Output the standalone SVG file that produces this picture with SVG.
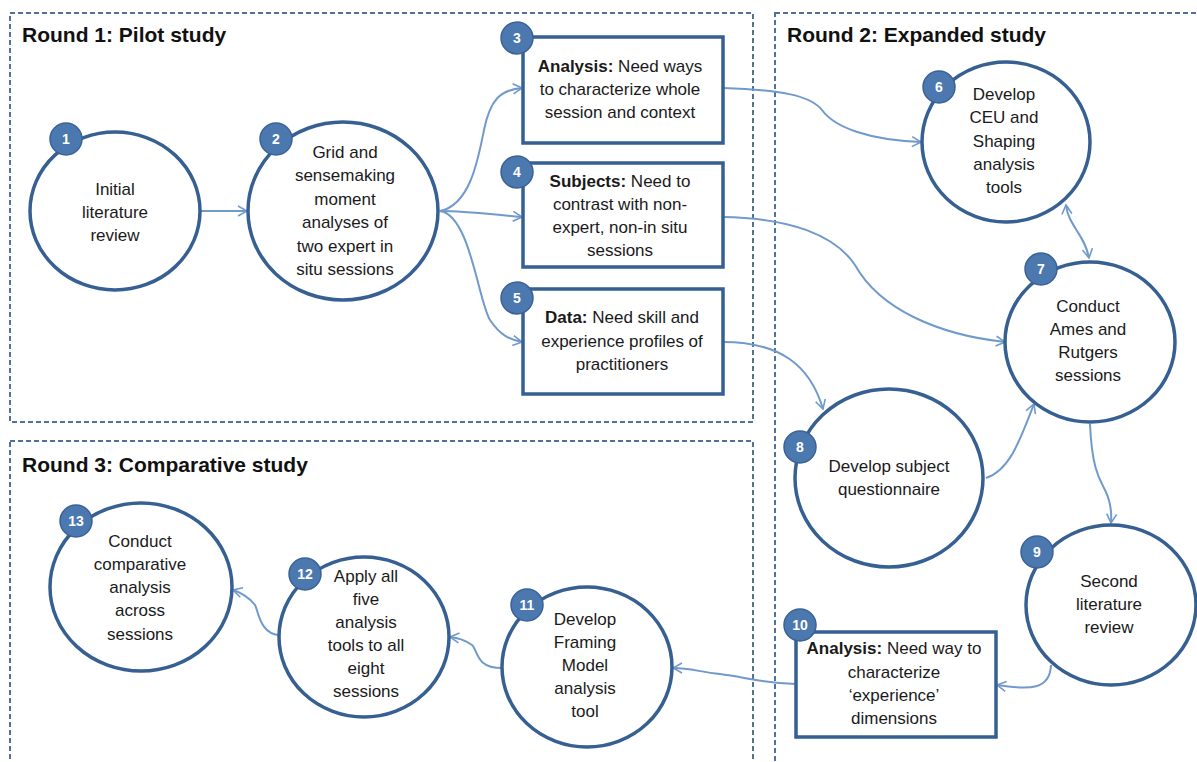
<svg xmlns="http://www.w3.org/2000/svg" width="1197" height="762" viewBox="0 0 1197 762">
<defs>
<style>
.frame{fill:none;stroke:#4f719c;stroke-width:2;stroke-dasharray:5,3}
.title{font-family:"Liberation Sans",Arial,sans-serif;font-weight:bold;font-size:21px;fill:#111}
.node{fill:#fff;stroke:#365f92;stroke-width:3.5}
.badge{fill:#4c78b0;stroke:#3a6296;stroke-width:1.5}
.bt{font-family:"Liberation Sans",Arial,sans-serif;font-weight:bold;font-size:14px;fill:#fff;text-anchor:middle}
.t{font-family:"Liberation Sans",Arial,sans-serif;font-size:17px;fill:#1a1a1a;text-anchor:middle}
.b{font-weight:bold}
.conn{fill:none;stroke:#7099cc;stroke-width:2}
</style>
<marker id="arr" viewBox="0 0 12 12" refX="11" refY="6" markerWidth="12" markerHeight="12" markerUnits="userSpaceOnUse" orient="auto-start-reverse">
<path d="M2,1 L11,6 L2,11" fill="none" stroke="#7099cc" stroke-width="1.6"/>
</marker>
</defs>
<rect width="1197" height="762" fill="#fff"/>
<g id="frames">
<rect class="frame" x="10" y="13" width="743" height="409"/>
<rect class="frame" x="775" y="13" width="440" height="770"/>
<rect class="frame" x="10" y="441" width="743" height="340"/>
<text class="title" x="22" y="42">Round 1: Pilot study</text>
<text class="title" x="787" y="42">Round 2: Expanded study</text>
<text class="title" x="22" y="472">Round 3: Comparative study</text>
</g>
<g id="connectors">
<path class="conn" marker-end="url(#arr)" d="M200,211 L247,211"/>
<path class="conn" marker-end="url(#arr)" d="M440,211 C470,205 478,160 484,130 C490,100 500,90 522,88"/>
<path class="conn" marker-end="url(#arr)" d="M440,211 C470,211 495,215 522,217"/>
<path class="conn" marker-end="url(#arr)" d="M440,211 C470,215 478,300 490,320 C500,335 510,340 522,342"/>
<path class="conn" marker-end="url(#arr)" d="M723,88 C780,90 810,95 822,110 C835,128 870,140 921,142"/>
<path class="conn" marker-end="url(#arr)" d="M723,217 C790,218 835,235 855,265 C880,310 940,335 1005,342"/>
<path class="conn" marker-end="url(#arr)" d="M723,342 C780,342 810,365 823,409"/>
<path class="conn" marker-start="url(#arr)" marker-end="url(#arr)" d="M1066,205 C1068,225 1085,235 1089,258"/>
<path class="conn" marker-end="url(#arr)" d="M986,478 C1010,470 1020,440 1034,404"/>
<path class="conn" marker-end="url(#arr)" d="M1090,424 C1092,470 1100,480 1105,490 C1110,500 1112,510 1111,523"/>
<path class="conn" marker-end="url(#arr)" d="M1051,665 C1050,690 1030,690 997,685"/>
<path class="conn" marker-end="url(#arr)" d="M796,684 C760,683 745,677 720,674 C700,672 690,668 673,668"/>
<path class="conn" marker-end="url(#arr)" d="M502,668 C475,668 478,650 472,645 C465,640 460,638 450,637"/>
<path class="conn" marker-end="url(#arr)" d="M280,635 C260,635 258,610 255,605 C250,598 240,592 233,590"/>
</g>
<g id="n1">
<ellipse class="node" cx="115" cy="211" rx="85" ry="79"/>
<circle class="badge" cx="66" cy="139" r="16"/><text class="bt" x="66" y="144">1</text>
<text class="t" x="115" y="195">Initial</text>
<text class="t" x="115" y="218">literature</text>
<text class="t" x="115" y="241">review</text>
</g>
<g id="n2">
<ellipse class="node" cx="343" cy="211" rx="95" ry="89"/>
<circle class="badge" cx="276" cy="139" r="16"/><text class="bt" x="276" y="144">2</text>
<text class="t" x="345" y="158">Grid and</text>
<text class="t" x="345" y="181">sensemaking</text>
<text class="t" x="345" y="205">moment</text>
<text class="t" x="345" y="228">analyses of</text>
<text class="t" x="345" y="252">two expert in</text>
<text class="t" x="345" y="275">situ sessions</text>
</g>
<g id="n3">
<rect class="node" x="523" y="37" width="200" height="106"/>
<circle class="badge" cx="517" cy="38" r="16"/><text class="bt" x="517" y="43">3</text>
<text class="t" x="620" y="72"><tspan class="b">Analysis:</tspan> Need ways</text>
<text class="t" x="620" y="95">to characterize whole</text>
<text class="t" x="620" y="118">session and context</text>
</g>
<g id="n4">
<rect class="node" x="523" y="163" width="200" height="104"/>
<circle class="badge" cx="517" cy="172" r="16"/><text class="bt" x="517" y="177">4</text>
<text class="t" x="620" y="187"><tspan class="b">Subjects:</tspan> Need to</text>
<text class="t" x="620" y="210">contrast with non-</text>
<text class="t" x="620" y="233">expert, non-in situ</text>
<text class="t" x="620" y="256">sessions</text>
</g>
<g id="n5">
<rect class="node" x="523" y="289" width="200" height="105"/>
<circle class="badge" cx="517" cy="298" r="16"/><text class="bt" x="517" y="303">5</text>
<text class="t" x="622" y="323"><tspan class="b">Data:</tspan> Need skill and</text>
<text class="t" x="622" y="347">experience profiles of</text>
<text class="t" x="622" y="370">practitioners</text>
</g>
<g id="n6">
<ellipse class="node" cx="1006" cy="142" rx="84" ry="80"/>
<circle class="badge" cx="939" cy="87" r="16"/><text class="bt" x="939" y="92">6</text>
<text class="t" x="1004" y="100">Develop</text>
<text class="t" x="1004" y="123">CEU and</text>
<text class="t" x="1004" y="147">Shaping</text>
<text class="t" x="1004" y="170">analysis</text>
<text class="t" x="1004" y="193">tools</text>
</g>
<g id="n7">
<ellipse class="node" cx="1090" cy="342" rx="85" ry="80"/>
<circle class="badge" cx="1041" cy="269" r="16"/><text class="bt" x="1041" y="274">7</text>
<text class="t" x="1088" y="312">Conduct</text>
<text class="t" x="1088" y="335">Ames and</text>
<text class="t" x="1088" y="358">Rutgers</text>
<text class="t" x="1088" y="381">sessions</text>
</g>
<g id="n8">
<ellipse class="node" cx="889" cy="478" rx="94" ry="89"/>
<circle class="badge" cx="800" cy="447" r="16"/><text class="bt" x="800" y="452">8</text>
<text class="t" x="889" y="472">Develop subject</text>
<text class="t" x="889" y="495">questionnaire</text>
</g>
<g id="n9">
<ellipse class="node" cx="1111" cy="605" rx="85" ry="80"/>
<circle class="badge" cx="1037" cy="552" r="16"/><text class="bt" x="1037" y="557">9</text>
<text class="t" x="1109" y="587">Second</text>
<text class="t" x="1109" y="610">literature</text>
<text class="t" x="1109" y="633">review</text>
</g>
<g id="n10">
<rect class="node" x="796" y="632" width="200" height="105"/>
<circle class="badge" cx="800" cy="625" r="16"/><text class="bt" x="800" y="630">10</text>
<text class="t" x="894" y="654"><tspan class="b">Analysis:</tspan> Need way to</text>
<text class="t" x="894" y="678">characterize</text>
<text class="t" x="894" y="701">‘experience’</text>
<text class="t" x="894" y="724">dimensions</text>
</g>
<g id="n11">
<ellipse class="node" cx="587" cy="667" rx="85" ry="80"/>
<circle class="badge" cx="527" cy="605" r="16"/><text class="bt" x="527" y="610">11</text>
<text class="t" x="585" y="625">Develop</text>
<text class="t" x="585" y="648">Framing</text>
<text class="t" x="585" y="671">Model</text>
<text class="t" x="585" y="694">analysis</text>
<text class="t" x="585" y="717">tool</text>
</g>
<g id="n12">
<ellipse class="node" cx="364" cy="637" rx="85" ry="80"/>
<circle class="badge" cx="305" cy="574" r="16"/><text class="bt" x="305" y="579">12</text>
<text class="t" x="366" y="582">Apply all</text>
<text class="t" x="366" y="605">five</text>
<text class="t" x="366" y="628">analysis</text>
<text class="t" x="366" y="651">tools to all</text>
<text class="t" x="366" y="674">eight</text>
<text class="t" x="366" y="697">sessions</text>
</g>
<g id="n13">
<ellipse class="node" cx="141" cy="587" rx="91" ry="84"/>
<circle class="badge" cx="76" cy="521" r="16"/><text class="bt" x="76" y="526">13</text>
<text class="t" x="140" y="547">Conduct</text>
<text class="t" x="140" y="570">comparative</text>
<text class="t" x="140" y="593">analysis</text>
<text class="t" x="140" y="616">across</text>
<text class="t" x="140" y="640">sessions</text>
</g>
</svg>
